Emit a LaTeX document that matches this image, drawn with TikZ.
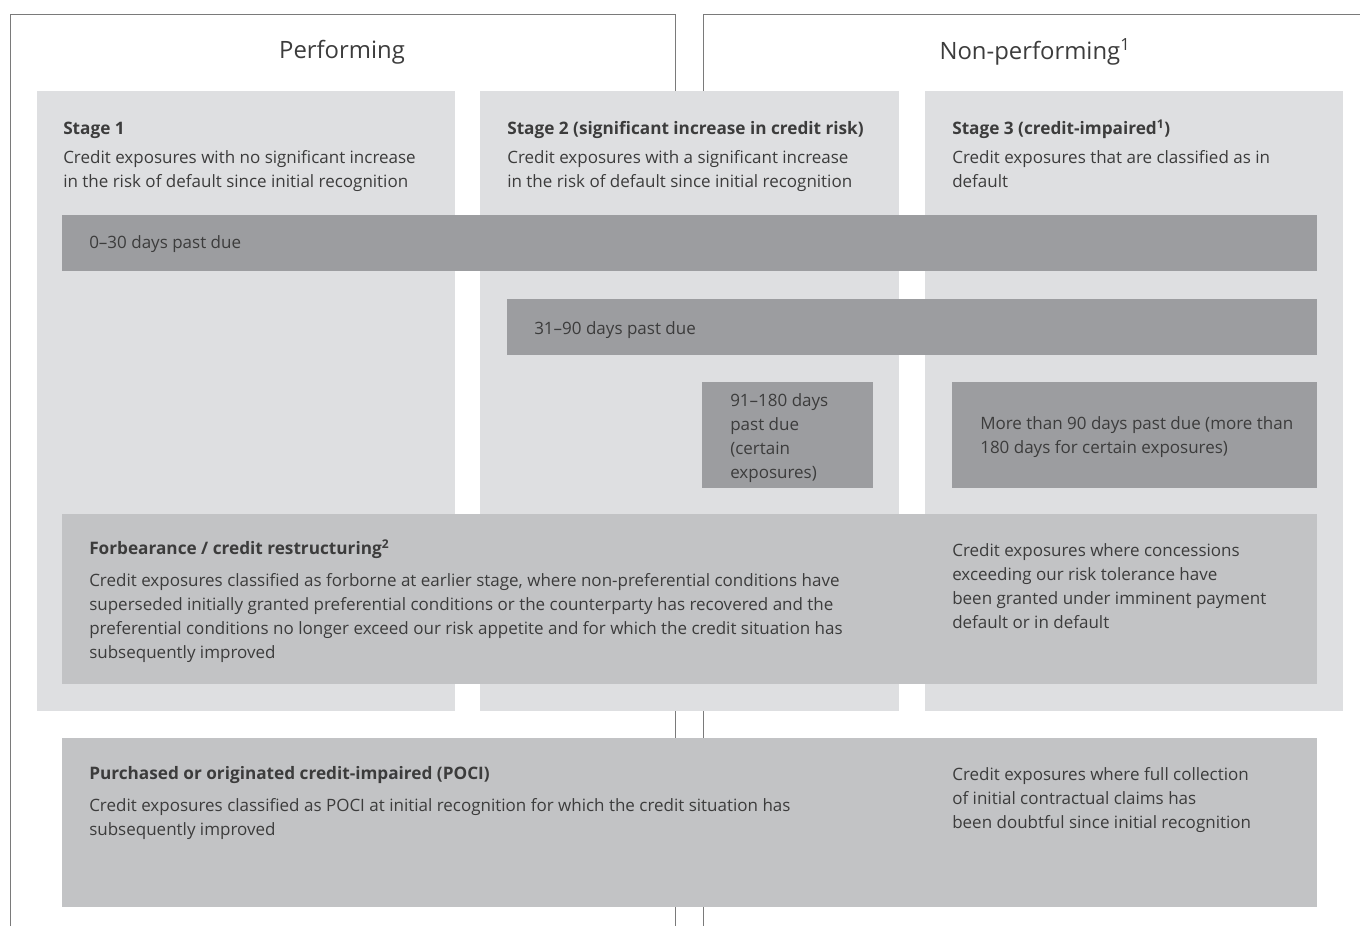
\documentclass[tikz,border=0pt]{standalone}
\usepackage{fontspec}
\setmainfont{Open Sans}
\usepackage{tikz}
\usetikzlibrary{positioning}

\definecolor{lightgrey}{HTML}{DEDFE1}
\definecolor{midgrey}{HTML}{C2C3C5}
\definecolor{darkgrey}{HTML}{9C9DA0}
\definecolor{framegrey}{HTML}{7A7A7A}
\definecolor{textgrey}{HTML}{3C3C3C}

\begin{document}
\begin{tikzpicture}[
    x=0.75pt, y=-0.75pt,
    frameline/.style={draw=framegrey, line width=0.6pt},
    headtext/.style={text=textgrey, inner sep=0pt, font=\fontsize{17.9}{21}\selectfont},
    titletext/.style={text=textgrey, inner sep=0pt, anchor=north west, text height=9pt, text depth=2.5pt, font=\fontsize{12.9}{18}\selectfont\bfseries},
    bodytext/.style={text=textgrey, inner sep=0pt, anchor=north west, align=left, font=\fontsize{12.75}{18}\selectfont},
]
\useasboundingbox (0,0) rectangle (1360,926);
% frame
\draw[frameline] (10,926) -- (10,14) -- (675,14) -- (675,91);
\draw[frameline] (1360,14) -- (703,14) -- (703,91);
\draw[frameline] (675,711) -- (675,738);
\draw[frameline] (703,711) -- (703,738);
\draw[frameline] (675,907) -- (675,926);
\draw[frameline] (703,907) -- (703,926);
% stage columns
\fill[lightgrey] (37,91) rectangle (455,711);
\fill[lightgrey] (480,91) rectangle (899,711);
\fill[lightgrey] (925,91) rectangle (1343,711);
% days past due
\fill[darkgrey] (62,215) rectangle (1317,271);
\fill[darkgrey] (507,299) rectangle (1317,355);
\fill[darkgrey] (702,382) rectangle (873,488);
\fill[darkgrey] (952,382) rectangle (1317,488);
% forbearance and poci
\fill[midgrey] (62,514) rectangle (1317,684);
\fill[midgrey] (62,738) rectangle (1317,907);

\node[headtext](performing) at (342,52){Performing};
\node[headtext](nonperforming) at (1035,52){Non-performing\textsuperscript{1}};

\node[titletext](stage1) at (63,122){Stage 1};
\node[bodytext](stage1_desc)[below = 9.5pt of stage1.south west, anchor=north west]{Credit exposures with no significant increase\\in the risk of default since initial recognition};
\node[titletext](stage2) at (507,122){Stage 2 (significant increase in credit risk)};
\node[bodytext](stage2_desc)[below = 9.5pt of stage2.south west, anchor=north west]{Credit exposures with a significant increase\\in the risk of default since initial recognition};
\node[titletext](stage3) at (952,122){Stage 3 (credit-impaired\textsuperscript{1})};
\node[bodytext](stage3_desc)[below = 9.5pt of stage3.south west, anchor=north west]{Credit exposures that are classified as in\\default};

\node[bodytext](dpd_0_30) at (89,235){0--30 days past due};
\node[bodytext](dpd_31_90) at (534,321){31--90 days past due};
\node[bodytext](dpd_91_180) at (730,393){91--180 days\\past due\\(certain\\exposures)};
\node[bodytext](dpd_90_plus) at (980,416){More than 90 days past due (more than\\180 days for certain exposures)};

\node[titletext](forbearance) at (89,542){Forbearance / credit restructuring\textsuperscript{2}};
\node[bodytext](forbearance_desc)[below = 11.5pt of forbearance.south west, anchor=north west]{Credit exposures classified as forborne at earlier stage, where non-preferential conditions have\\superseded initially granted preferential conditions or the counterparty has recovered and the\\preferential conditions no longer exceed our risk appetite and for which the credit situation has\\subsequently improved};
\node[bodytext](forbearance_np) at (952,543){Credit exposures where concessions\\exceeding our risk tolerance have\\been granted under imminent payment\\default or in default};

\node[titletext](poci) at (89,767){Purchased or originated credit-impaired (POCI)};
\node[bodytext](poci_desc)[below = 11.5pt of poci.south west, anchor=north west]{Credit exposures classified as POCI at initial recognition for which the credit situation has\\subsequently improved};
\node[bodytext](poci_np) at (952,767){Credit exposures where full collection\\of initial contractual claims has\\been doubtful since initial recognition};
\end{tikzpicture}
\end{document}
